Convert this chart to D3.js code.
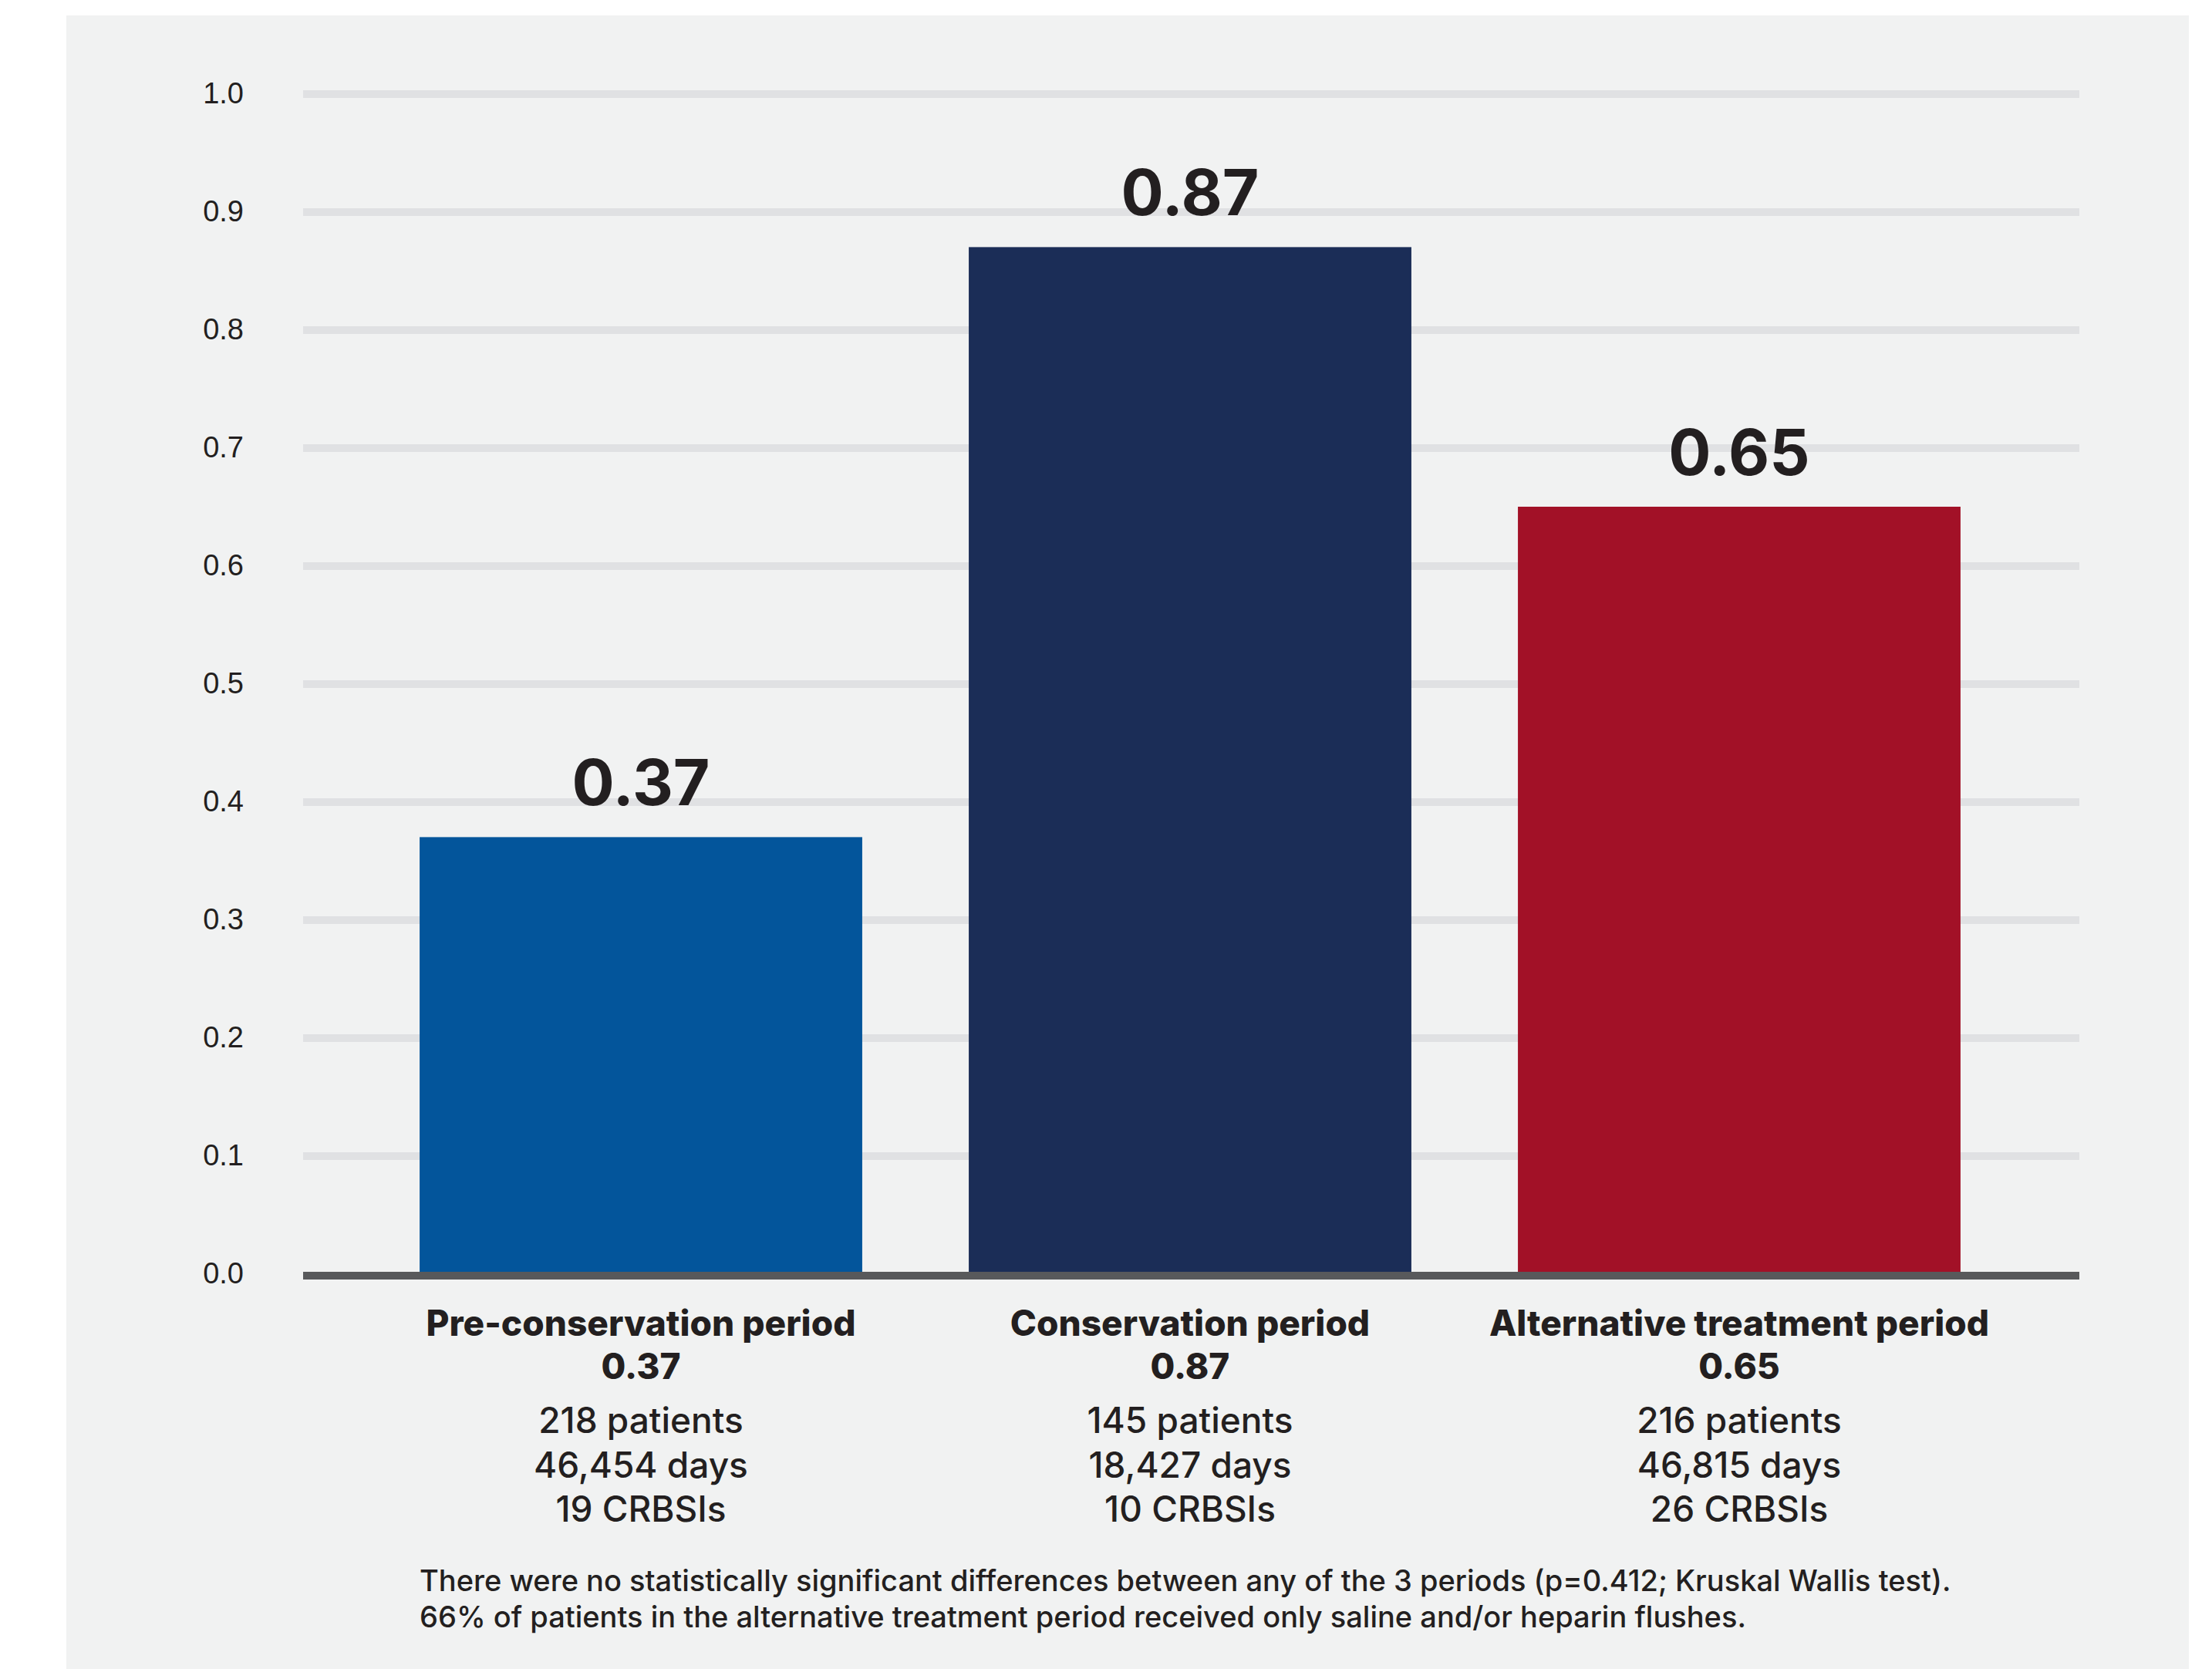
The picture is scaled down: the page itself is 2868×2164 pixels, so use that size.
<!DOCTYPE html>
<html lang="en">
  <head>
    <meta charset="utf-8">
    <title>CRBSI rate by period</title>
    <script src="https://cdnjs.cloudflare.com/ajax/libs/d3/7.8.5/d3.min.js"></script>
    <style>
      body { margin: 0; background: #fff; }
      svg text { fill: #231f20; }
      .tick-label { font-family: "Liberation Sans", Arial, sans-serif; font-size: 38px; }
      .bold { font-family: "Inter", "Liberation Sans", sans-serif; font-weight: 700; }
      .cat { font-family: "Inter", "Liberation Sans", sans-serif; font-weight: 800; }
      .reg { font-family: "Inter", "Liberation Sans", sans-serif; font-weight: 500; }
    </style>
  </head>
  <body>
    <div id="chart"></div>
    <script>
    // chart values
    const categories = ["Pre-conservation period", "Conservation period", "Alternative treatment period"];
    const rates = [0.37, 0.87, 0.65];
    const patients = [218, 145, 216];
    const days = [46454, 18427, 46815];
    const crbsis = [19, 10, 26];
    const yTicks = [0, 0.1, 0.2, 0.3, 0.4, 0.5, 0.6, 0.7, 0.8, 0.9, 1.0];
    const notes = [
      "There were no statistically significant differences between any of the 3 periods (p=0.412; Kruskal Wallis test).",
      "66% of patients in the alternative treatment period received only saline and/or heparin flushes."
    ];

    const barColors = ["#03559b", "#1b2d57", "#a21127"];

    const W = 2868, H = 2164;
    const plotLeft = 393, plotRight = 2696;

    const svg = d3.select("#chart").append("svg")
      .attr("width", W)
      .attr("height", H);

    // grey panel
    svg.append("rect")
      .attr("x", 86).attr("y", 20)
      .attr("width", 2752).attr("height", H - 20)
      .attr("fill", "#f1f2f2");

    const y = d3.scaleLinear()
      .domain([0, 1])
      .range([1651.5, 121.5]);

    const x = d3.scaleBand()
      .domain(categories)
      .range([475, 2611])
      .paddingInner(0.194)
      .paddingOuter(0.097);

    // gridlines + tick labels
    const yAxis = d3.axisLeft(y)
      .tickValues(yTicks)
      .tickFormat(d3.format(".1f"))
      .tickSize(-(plotRight - plotLeft))
      .tickPadding(77);

    const gy = svg.append("g")
      .attr("transform", "translate(" + plotLeft + ",0)")
      .call(yAxis);
    gy.select(".domain").remove();
    gy.selectAll(".tick line")
      .attr("stroke", "#e0e1e3")
      .attr("stroke-width", 10)
      .filter(d => d === 0).remove();
    gy.selectAll(".tick text")
      .attr("class", "tick-label")
      .attr("fill", "#231f20")
      .attr("font-size", null)
      .attr("font-family", null);

    // bars
    svg.selectAll(".bar")
      .data(rates)
      .enter()
      .append("rect")
      .attr("class", "bar")
      .attr("x", (d, i) => x(categories[i]))
      .attr("y", d => y(d))
      .attr("width", x.bandwidth())
      .attr("height", d => y(0) - y(d))
      .attr("fill", (d, i) => barColors[i]);

    // baseline
    svg.append("line")
      .attr("x1", plotLeft).attr("x2", plotRight)
      .attr("y1", y(0) + 2.5).attr("y2", y(0) + 2.5)
      .attr("stroke", "#58595b")
      .attr("stroke-width", 10);

    // value labels on top of bars
    svg.selectAll(".val")
      .data(rates)
      .enter()
      .append("text")
      .attr("class", "bold val")
      .attr("x", (d, i) => x(categories[i]) + x.bandwidth() / 2)
      .attr("y", d => y(d) - 41)
      .attr("text-anchor", "middle")
      .style("font-size", "82px")
      .text(d => d3.format(".2f")(d));

    // category labels below axis
    const fmtDays = d3.format(",");
    categories.forEach((c, i) => {
      const cx = x(c) + x.bandwidth() / 2;
      const g = svg.append("g").attr("transform", "translate(" + cx + ",0)");
      g.append("text").attr("class", "cat").attr("text-anchor", "middle")
        .attr("y", 1732).style("font-size", "46px").text(c);
      g.append("text").attr("class", "cat").attr("text-anchor", "middle")
        .attr("y", 1788).style("font-size", "46px").text(d3.format(".2f")(rates[i]));
      g.append("text").attr("class", "reg").attr("text-anchor", "middle")
        .attr("y", 1858).style("font-size", "46px").text(patients[i] + " patients");
      g.append("text").attr("class", "reg").attr("text-anchor", "middle")
        .attr("y", 1916).style("font-size", "46px").text(fmtDays(days[i]) + " days");
      g.append("text").attr("class", "reg").attr("text-anchor", "middle")
        .attr("y", 1973).style("font-size", "46px").text(crbsis[i] + " CRBSIs");
    });

    // footnote
    svg.selectAll(".note")
      .data(notes)
      .enter()
      .append("text")
      .attr("class", "reg note")
      .attr("x", x(categories[0]))
      .attr("y", (d, i) => 2063 + i * 47)
      .style("font-size", "38px")
      .text(d => d);
    </script>
  </body>
</html>
